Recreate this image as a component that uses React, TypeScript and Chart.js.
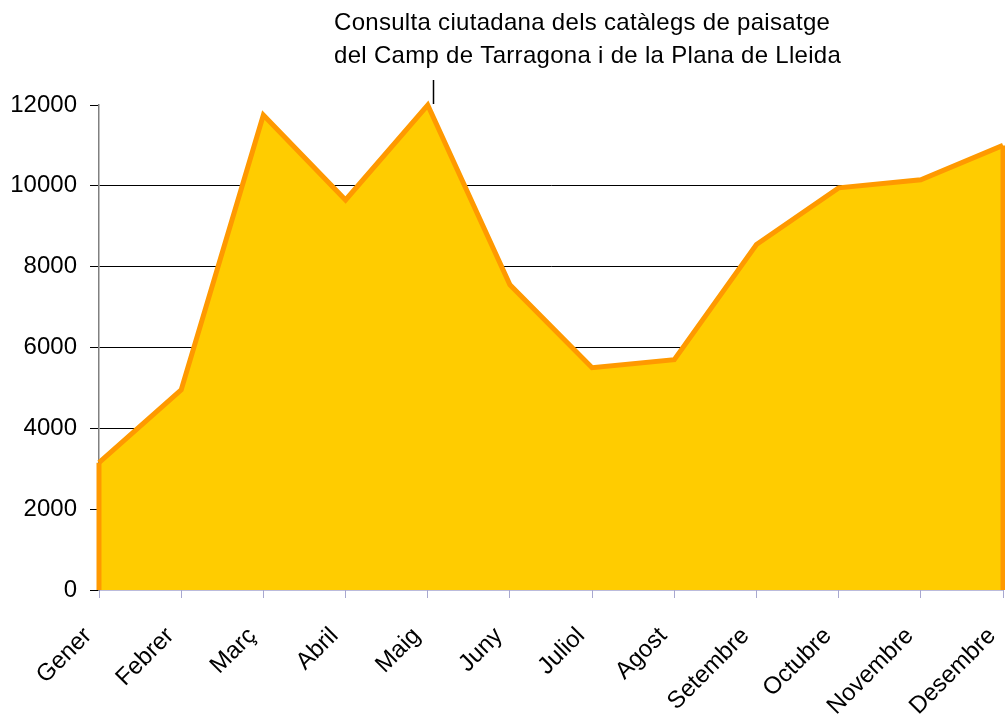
import React, { useEffect, useRef } from "react";
import { Chart, registerables } from "chart.js";

Chart.register(...registerables);

const months = ["Gener", "Febrer", "Març", "Abril", "Maig", "Juny", "Juliol", "Agost", "Setembre", "Octubre", "Novembre", "Desembre"];
const visits = [3150, 4950, 11750, 9650, 12000, 7550, 5500, 5700, 8550, 9950, 10150, 11000];
const yTicks = [0, 2000, 4000, 6000, 8000, 10000, 12000];
const noteLines = ["Consulta ciutadana dels catàlegs de paisatge", "del Camp de Tarragona i de la Plana de Lleida"];
const noteIndex = 4;

const FONT = "'Liberation Sans', Arial, sans-serif";

const edgesPlugin = {
  id: "edges",
  afterDatasetsDraw(chart: any) {
    const { ctx, scales } = chart;
    const x = scales.x;
    const y = scales.y;
    const y0 = y.getPixelForValue(0);
    ctx.save();
    ctx.strokeStyle = "#FF9900";
    ctx.lineWidth = 5;
    const first = x.getPixelForValue(0);
    const last = x.getPixelForValue(months.length - 1);
    ctx.beginPath();
    ctx.moveTo(first, y0);
    ctx.lineTo(first, y.getPixelForValue(visits[0]));
    ctx.moveTo(last, y0);
    ctx.lineTo(last, y.getPixelForValue(visits[visits.length - 1]));
    ctx.stroke();
    ctx.restore();
  },
  afterDraw(chart: any) {
    const { ctx, scales } = chart;
    const px = Math.round(scales.x.getPixelForValue(noteIndex)) + 5.5;
    const py = scales.y.getPixelForValue(visits[noteIndex]);
    ctx.save();
    ctx.strokeStyle = "#000000";
    ctx.lineWidth = 1.5;
    ctx.beginPath();
    ctx.moveTo(px, py - 25);
    ctx.lineTo(px, py - 1);
    ctx.stroke();
    ctx.fillStyle = "#000000";
    ctx.font = `24px ${FONT}`;
    (ctx as any).letterSpacing = "0.3px";
    ctx.textAlign = "left";
    ctx.textBaseline = "alphabetic";
    ctx.fillText(noteLines[0], 334, 30);
    ctx.fillText(noteLines[1], 334, 63);
    ctx.restore();
  },
};

export default function App() {
  const ref = useRef<HTMLCanvasElement>(null);
  useEffect(() => {
    if (!ref.current) return;
    const chart = new Chart(ref.current, {
      type: "line",
      data: {
        labels: months,
        datasets: [
          {
            data: visits,
            fill: "origin",
            backgroundColor: "#FFCC00",
            borderColor: "#FF9900",
            borderWidth: 5,
            borderJoinStyle: "miter",
            pointRadius: 0,
            tension: 0,
            clip: false,
          } as any,
        ],
      },
      options: {
        animation: false,
        responsive: false,
        devicePixelRatio: 1,
        layout: { padding: { top: 105, right: 2, left: 0, bottom: 0 } },
        plugins: { legend: { display: false }, tooltip: { enabled: false } },
        scales: {
          x: {
            type: "category",
            offset: false,
            grid: {
              display: true,
              drawOnChartArea: false,
              drawTicks: true,
              tickLength: 8,
              color: "#A8A8D0",
            },
            border: { display: true, color: "#7878B8", width: 1.5 },
            ticks: {
              minRotation: 45,
              maxRotation: 45,
              autoSkip: false,
              padding: 24,
              labelOffset: -11,
              color: "#000000",
              font: { family: FONT, size: 24 },
            },
            afterFit(scale: any) {
              scale.height = 130;
              scale.paddingLeft = 0;
              scale.paddingRight = 0;
            },
          },
          y: {
            min: 0,
            max: 12000,
            afterBuildTicks(scale: any) {
              scale.ticks = yTicks.map((v) => ({ value: v }));
            },
            grid: {
              drawOnChartArea: true,
              drawTicks: true,
              tickLength: 9,
              color: (c: any) => (c.tick && (c.tick.value === 12000 || c.tick.value === 0) ? "rgba(0,0,0,0)" : "#000000"),
              tickColor: "#000000",
              lineWidth: 1,
            },
            border: { display: true, color: "#808080", width: 1.5 },
            ticks: {
              padding: 13,
              color: "#000000",
              font: { family: FONT, size: 24 },
              callback: (v: any) => String(v),
            },
            afterFit(scale: any) {
              scale.width = 99;
              scale.paddingTop = 0;
              scale.paddingBottom = 0;
            },
          },
        },
      },
      plugins: [edgesPlugin],
    });
    return () => chart.destroy();
  }, []);
  return (
    <div style={{ position: "fixed", left: 0, top: 0, width: 1005, height: 720, background: "#ffffff" }}>
      <canvas ref={ref} width={1005} height={720} style={{ display: "block" }} />
    </div>
  );
}
